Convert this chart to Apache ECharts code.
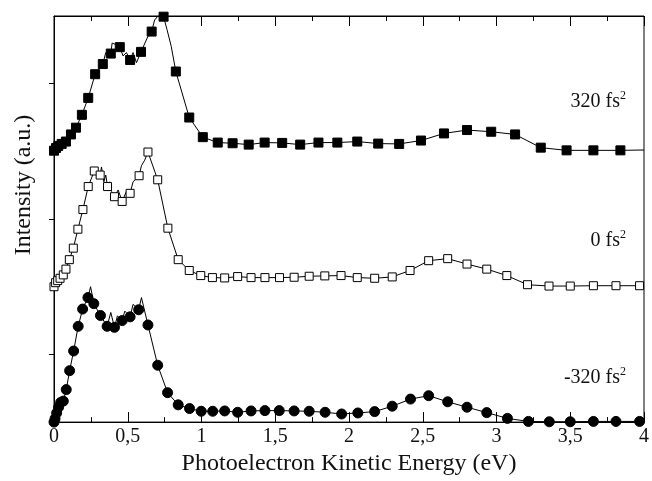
<!DOCTYPE html>
<html><head><meta charset="utf-8">
<script src="https://cdn.jsdelivr.net/npm/echarts@6/dist/echarts.min.js"></script>
<style>html,body{margin:0;padding:0;background:#fff}#c{width:652px;height:481px}</style>
</head><body><div id="c"></div>
<script>
// x tick labels
const xTicks = ['0','0,5','1','1,5','2','2,5','3','3,5','4'];
const curveLabels = ['320 fs', '0 fs', '-320 fs'];
const offsets = [4, 2, 0];

// 320 fs^2 markers [energy eV, intensity]
const m320 = [[0,0.01],[0.014,0.05],[0.029,0.08],[0.052,0.11],[0.081,0.145],[0.115,0.25],[0.149,0.35],[0.189,0.54],[0.232,0.79],[0.279,1.14],[0.331,1.29],[0.385,1.445],[0.446,1.54],[0.516,1.35],[0.590,1.47],[0.662,1.77],[0.743,1.99],[0.826,1.18],[0.917,0.50],[1.009,0.21],[1.110,0.13],[1.211,0.12],[1.32,0.10],[1.428,0.13],[1.547,0.125],[1.669,0.10],[1.793,0.13],[1.921,0.13],[2.056,0.145],[2.198,0.115],[2.34,0.11],[2.488,0.16],[2.644,0.265],[2.80,0.315],[2.964,0.29],[3.126,0.25],[3.30,0.055],[3.475,0.015],[3.657,0.015],[3.84,0.015]];
// extra points of the measured trace (noise spikes) for 320 fs^2
const t320 = [[0.351,1.46],[0.394,1.60],[0.417,1.58],[0.468,1.41],[0.491,1.46],[0.536,1.46],[0.559,1.31],[0.637,1.70],[0.682,1.94],[0.705,2.0],[0.766,1.80],[0.795,1.55],[4.0,0.02]];

// 0 fs^2
const m0 = [[0,0],[0.011,0.06],[0.025,0.09],[0.041,0.125],[0.063,0.175],[0.081,0.26],[0.104,0.40],[0.131,0.57],[0.162,0.85],[0.196,1.14],[0.232,1.48],[0.273,1.71],[0.313,1.65],[0.363,1.48],[0.41,1.33],[0.462,1.26],[0.516,1.38],[0.577,1.64],[0.637,1.99],[0.703,1.58],[0.772,0.865],[0.842,0.40],[0.917,0.24],[0.995,0.165],[1.074,0.135],[1.157,0.13],[1.245,0.15],[1.336,0.135],[1.43,0.135],[1.529,0.135],[1.628,0.14],[1.73,0.155],[1.836,0.16],[1.946,0.165],[2.056,0.135],[2.174,0.125],[2.293,0.145],[2.414,0.24],[2.54,0.385],[2.669,0.415],[2.80,0.335],[2.934,0.26],[3.07,0.165],[3.21,0.03],[3.356,0.01],[3.50,0.01],[3.657,0.015],[3.81,0.015],[3.97,0.015]];
const t0 = [[0.288,1.75],[0.322,1.77],[0.338,1.55],[0.351,1.65],[0.378,1.55],[0.39,1.41],[0.435,1.43],[0.491,1.41],[0.536,1.55],[0.559,1.60],[0.593,1.79],[0.615,1.87],[4.0,0.015]];

// -320 fs^2
const mNeg = [[0,0],[0.007,0.05],[0.018,0.135],[0.031,0.22],[0.045,0.29],[0.063,0.31],[0.083,0.48],[0.106,0.76],[0.133,1.05],[0.164,1.415],[0.194,1.67],[0.23,1.84],[0.27,1.75],[0.315,1.575],[0.36,1.415],[0.41,1.40],[0.462,1.50],[0.516,1.555],[0.574,1.66],[0.637,1.435],[0.703,0.84],[0.77,0.435],[0.842,0.255],[0.919,0.20],[0.998,0.16],[1.076,0.16],[1.157,0.165],[1.245,0.145],[1.336,0.165],[1.43,0.17],[1.527,0.17],[1.628,0.165],[1.73,0.16],[1.838,0.145],[1.95,0.12],[2.06,0.135],[2.174,0.155],[2.293,0.235],[2.417,0.34],[2.54,0.39],[2.669,0.30],[2.80,0.22],[2.934,0.14],[3.074,0.055],[3.216,0.01],[3.358,0.005],[3.50,0.005],[3.657,0.01],[3.81,0.01],[3.97,0.01]];
const tNeg = [[0.248,2.0],[0.385,1.62],[0.43,1.57],[0.48,1.64],[0.536,1.74],[0.593,1.84],[4.0,0.01]];

function shift(arr, off){ return arr.map(p => [p[0], p[1] + off]); }
function trace(m, t, off){ return shift(m.concat(t).sort((a,b)=>a[0]-b[0]), off); }

const font = 'Liberation Serif, Times New Roman, serif';
const chart = echarts.init(document.getElementById('c'), null, {renderer:'canvas'});

const xCommon = {
  type:'value', min:0, max:4, interval:0.5,
  axisLine:{show:true, lineStyle:{color:'#000', width:1}},
  axisTick:{show:true, inside:true, length:10, lineStyle:{color:'#000'}},
  minorTick:{show:true, splitNumber:2, length:5, lineStyle:{color:'#000'}},
  splitLine:{show:false}
};

const lineStyle = {color:'#000', width:1};
const series = [];
const sets = [[m320,t320,'rect',9,'#000'],[m0,t0,'rect',8,'#fff'],[mNeg,tNeg,'circle',10,'#000']];
sets.forEach((s,i)=>{
  series.push({type:'line', data:trace(s[0],s[1],offsets[i]), showSymbol:false, symbol:'none',
    lineStyle:lineStyle, z:2, animation:false, silent:true});
  series.push({type:'scatter', data:shift(s[0],offsets[i]), symbol:s[2], symbolSize:s[3],
    itemStyle:{color:s[4], borderColor:'#000', borderWidth:1, opacity:1}, z:3, animation:false, silent:true});
});

const labelTop = [90, 229, 366];
const graphics = curveLabels.map((t,i)=>({
  type:'text', right: 652-626, top: labelTop[i],
  style:{text:'{a|'+t+'}{s|2}', rich:{
    a:{fontFamily:font, fontSize:20, fill:'#111', lineHeight:24},
    s:{fontFamily:font, fontSize:12, fill:'#111', verticalAlign:'top', lineHeight:24}
  }}
}));
graphics.push({
  type:'text', x:24, y:185, rotation:Math.PI/2,
  style:{text:'Intensity (a.u.)', fontFamily:font, fontSize:24, fill:'#111', align:'center', verticalAlign:'middle'}
});

chart.setOption({
  animation:false,
  backgroundColor:'#fff',
  grid:{left:54, right:6, top:16, bottom:51, show:true, borderColor:'#000', borderWidth:1, backgroundColor:'transparent'},
  xAxis:[
    Object.assign({}, xCommon, {position:'bottom',
      name:'Photoelectron Kinetic Energy (eV)', nameLocation:'middle', nameGap:24,
      nameTextStyle:{fontFamily:font, fontSize:24, color:'#111'},
      axisLabel:{show:true, margin:5, fontFamily:font, fontSize:20, color:'#111',
        formatter:(v)=>xTicks[Math.round(v*2)]}}),
    Object.assign({}, xCommon, {position:'top', axisLabel:{show:false}})
  ],
  yAxis:[{
    type:'value', min:0, max:6, interval:2,
    axisLine:{show:true, lineStyle:{color:'#000'}},
    axisTick:{show:false},
    minorTick:{show:true, splitNumber:2, length:5, lineStyle:{color:'#000'}},
    axisLabel:{show:false}, splitLine:{show:false}, minorSplitLine:{show:false}
  }],
  graphic: graphics,
  series: series
});
</script></body></html>
